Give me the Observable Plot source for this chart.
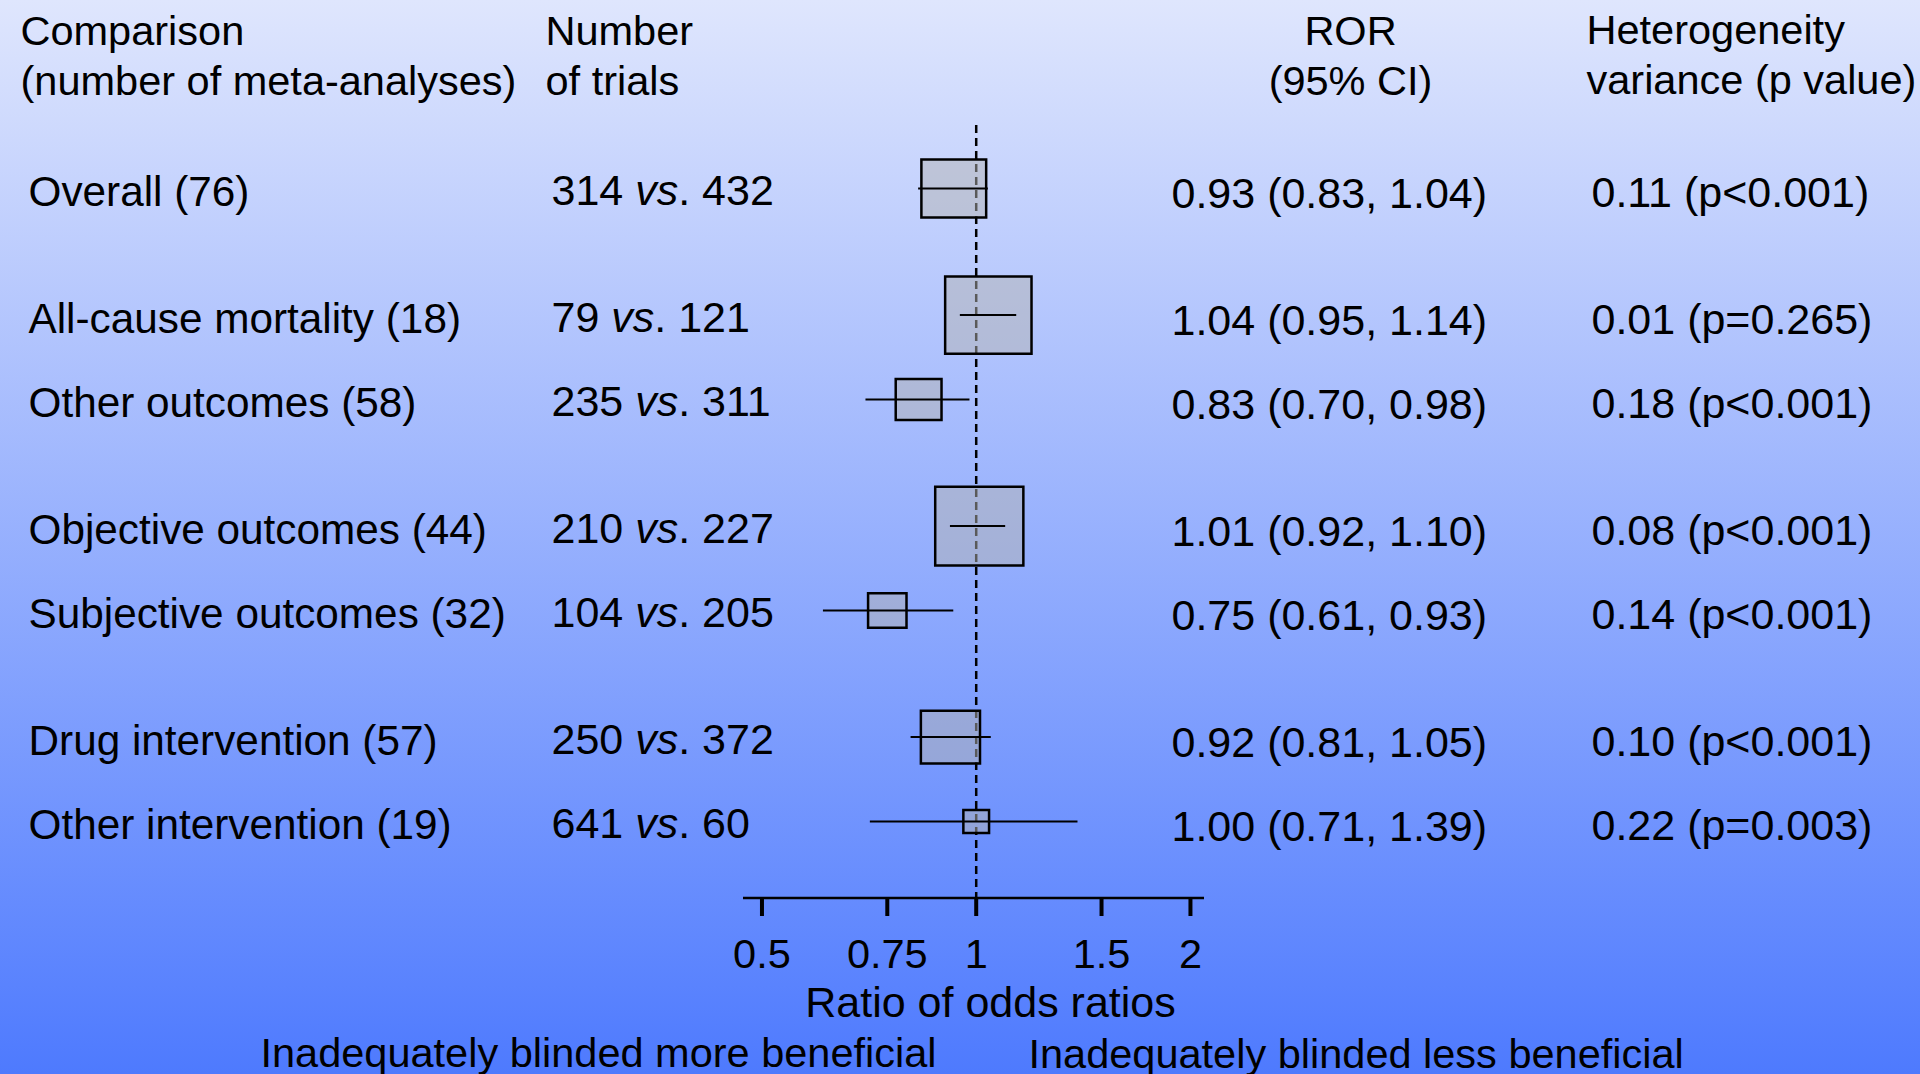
<!DOCTYPE html>
<html><head><meta charset="utf-8">
<script src="https://cdn.jsdelivr.net/npm/d3@7"></script>
<script src="https://cdn.jsdelivr.net/npm/@observablehq/plot@0.6"></script>
<style>
html,body{margin:0;padding:0;overflow:hidden;}
body{width:1920px;height:1074px;background:linear-gradient(to bottom,#dfe6fd 0%,#4e7afe 100%);}
#chart svg{display:block;}
</style></head><body><div id="chart"></div>
<script>
// ---- data ----
const comparisons = ["Overall","All-cause mortality","Other outcomes","Objective outcomes","Subjective outcomes","Drug intervention","Other intervention"];
const groups = ["Overall","Outcome","Outcome","Outcome assessment","Outcome assessment","Intervention","Intervention"];
const nMeta = [76,18,58,44,32,57,19];
const trialsA = [314,79,235,210,104,250,641];
const trialsB = [432,121,311,227,205,372,60];
const ror = [0.93,1.04,0.83,1.01,0.75,0.92,1.00];
const rorLo = [0.83,0.95,0.70,0.92,0.61,0.81,0.71];
const rorHi = [1.04,1.14,0.98,1.10,0.93,1.05,1.39];
const weight = [54,96,27,100,19,45,8.5];
const hetVar = [0.11,0.01,0.18,0.08,0.14,0.10,0.22];
const hetP = ["<0.001","=0.265","<0.001","<0.001","<0.001","<0.001","=0.003"];
const axisTicks = [0.5,0.75,1,1.5,2];
const axisTickLabels = ["0.5","0.75","1","1.5","2"];
const headers = ["Comparison\n(number of meta-analyses)","Number\nof trials","ROR\n(95% CI)","Heterogeneity\nvariance (p value)"];
const axisTitle = "Ratio of odds ratios";
const favourLeft = "Inadequately blinded more beneficial";
const favourRight = "Inadequately blinded less beneficial";

// ---- table ----
const groupOrder = [...new Set(groups)];
const rows = comparisons.map((c, i) => ({
  label: `${c} (${nMeta[i]})`,
  trials: `${trialsA[i]} vs. ${trialsB[i]}`,
  ror: ror[i], lo: rorLo[i], hi: rorHi[i], weight: weight[i],
  rorText: `${ror[i].toFixed(2)} (${rorLo[i].toFixed(2)}, ${rorHi[i].toFixed(2)})`,
  hetText: `${hetVar[i].toFixed(2)} (p${hetP[i]})`,
  pos: i + 0.5 * groupOrder.indexOf(groups[i])
}));

const FS = 41.5;
const rectSymbol = {
  draw(ctx, size) {
    const r = Math.sqrt(size / Math.PI), w = r * 1.12;
    ctx.moveTo(-w, -r); ctx.lineTo(w, -r); ctx.lineTo(w, r); ctx.lineTo(-w, r); ctx.closePath();
  }
};
const axisLine = (index, scales, values, dims) => {
  const y = dims.height - dims.marginBottom;
  return d3.create("svg:line")
    .attr("x1", dims.marginLeft).attr("x2", dims.width - dims.marginRight)
    .attr("y1", y).attr("y2", y)
    .attr("stroke", "black").attr("stroke-width", 2.5).node();
};
const txt = {fill: "black", fontSize: FS};

const plot = Plot.plot({
  width: 1920, height: 1074,
  marginLeft: 743, marginRight: 716, marginTop: 125, marginBottom: 176,
  style: {background: "transparent", fontFamily: "'Liberation Sans', Arial, sans-serif", color: "black"},
  x: {type: "log", domain: [0.471, 2.093], label: null},
  y: {domain: [0, 7.5], range: [188, 821], axis: null},
  r: {type: "sqrt", domain: [0, 100], range: [0, 39.35]},
  marks: [
    Plot.ruleX([1], {stroke: "black", strokeWidth: 2.5, strokeDasharray: "8,5"}),
    Plot.dot(rows, {x: "ror", y: "pos", r: "weight", symbol: rectSymbol, fill: "#b4b4b4", fillOpacity: 0.5, stroke: "black", strokeWidth: 2.5, sort: null}),
    Plot.ruleY(rows, {y: "pos", x1: "lo", x2: "hi", stroke: "black", strokeWidth: 2}),
    axisLine,
    Plot.axisX(axisTicks, {anchor: "bottom", tickFormat: d => axisTickLabels[axisTicks.indexOf(d)], tickSize: 18, tickPadding: 22, strokeWidth: 4, fontSize: FS, fill: "black", label: null}),
    // row texts
    Plot.text(rows, {...txt, fontSize: 42.3, y: "pos", text: "label", frameAnchor: "left", dx: -715, dy: 4, textAnchor: "start", lineAnchor: "middle"}),
    Plot.text(rows, {...txt, fontSize: 43, y: "pos", text: "trials", frameAnchor: "left", dx: -192, dy: 3, textAnchor: "start", lineAnchor: "middle"}),
    Plot.text(rows, {...txt, fontSize: 43, y: "pos", text: "rorText", frameAnchor: "left", dx: 428, dy: 6, textAnchor: "start", lineAnchor: "middle"}),
    Plot.text(rows, {...txt, fontSize: 43, y: "pos", text: "hetText", frameAnchor: "left", dx: 848, dy: 5, textAnchor: "start", lineAnchor: "middle"}),
    // headers
    Plot.text([headers[0]], {...txt, frameAnchor: "top-left", dx: -723, dy: -31, textAnchor: "start", lineAnchor: "bottom", lineHeight: 1.19}),
    Plot.text([headers[1]], {...txt, frameAnchor: "top-left", dx: -198, dy: -31, textAnchor: "start", lineAnchor: "bottom", lineHeight: 1.19}),
    Plot.text([headers[2]], {...txt, frameAnchor: "top-left", dx: 607, dy: -31, textAnchor: "middle", lineAnchor: "bottom", lineHeight: 1.19}),
    Plot.text([headers[3]], {...txt, frameAnchor: "top-left", dx: 843, dy: -32, textAnchor: "start", lineAnchor: "bottom", lineHeight: 1.19}),
    // bottom texts
    Plot.text([axisTitle], {...txt, fontSize: 43, frameAnchor: "bottom-left", dx: 247, dy: 118, textAnchor: "middle", lineAnchor: "bottom"}),
    Plot.text([favourLeft], {...txt, frameAnchor: "bottom-left", dx: -483, dy: 168, textAnchor: "start", lineAnchor: "bottom"}),
    Plot.text([favourRight], {...txt, frameAnchor: "bottom-left", dx: 285, dy: 169, textAnchor: "start", lineAnchor: "bottom"})
  ]
});

// italic "vs"
d3.select(plot).selectAll("text").each(function() {
  if (this.querySelector("tspan")) return;
  const m = (this.textContent || "").match(/^(\d+) vs\. (\d+)$/);
  if (!m) return;
  this.textContent = "";
  const s = d3.select(this);
  s.append("tspan").text(m[1] + " ");
  s.append("tspan").attr("font-style", "italic").text("vs");
  s.append("tspan").text(". " + m[2]);
});

document.getElementById("chart").appendChild(plot);
</script>
</body></html>
